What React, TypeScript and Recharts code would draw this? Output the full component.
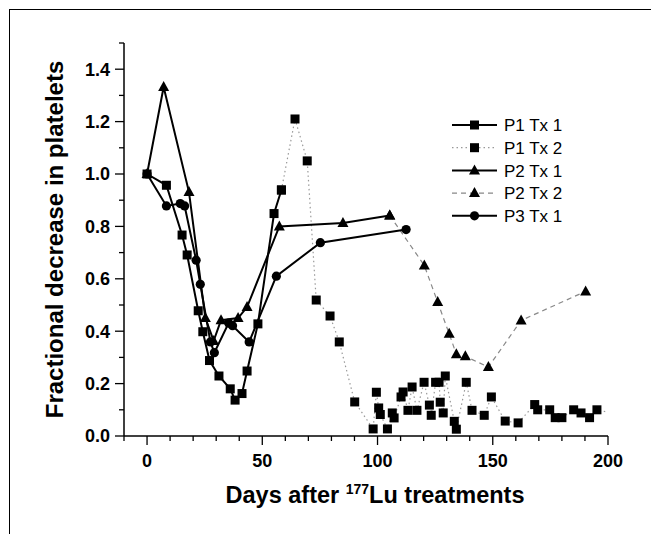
import React from "react";
import { LineChart, Line, XAxis, YAxis, Legend } from "recharts";

// [day, fraction] pairs
const p1Tx1 = [
  [0, 1.0], [8.4, 0.957], [15.2, 0.767], [17.4, 0.691], [22.2, 0.478], [24.2, 0.398],
  [27.1, 0.288], [31.2, 0.229], [36.1, 0.18], [38.2, 0.137], [41.2, 0.162], [43.4, 0.248],
  [48.1, 0.428], [55.1, 0.849], [58.3, 0.939],
];

const p1Tx2 = [
  [58.3, 0.939], [64.2, 1.21], [69.5, 1.05], [73.4, 0.519], [79.4, 0.458], [83.4, 0.359],
  [90.1, 0.13], [98.1, 0.027], [99.5, 0.167], [100.5, 0.107], [101.2, 0.082], [104.3, 0.027],
  [106.4, 0.088], [107.2, 0.069], [110.2, 0.149], [111.1, 0.168], [113.2, 0.098], [115.0, 0.187],
  [117.1, 0.098], [120.2, 0.205], [122.5, 0.118], [123.3, 0.079], [125.2, 0.205], [126.7, 0.205],
  [127.2, 0.129], [128.5, 0.088], [129.4, 0.229], [133.3, 0.056], [134.2, 0.026], [138.5, 0.205],
  [141.0, 0.098], [146.3, 0.079], [149.4, 0.149], [155.4, 0.057], [161.0, 0.05], [168.2, 0.12],
  [169.5, 0.1], [174.7, 0.1], [177.1, 0.07], [180.0, 0.07], [185.1, 0.1], [188.3, 0.088],
  [192.0, 0.07], [195.2, 0.1], [199.5, 0.092],
];

const p2Tx1 = [
  [0, 1.0], [7.2, 1.332], [18.2, 0.931], [25.3, 0.45], [28.9, 0.363], [32.1, 0.442],
  [39.5, 0.45], [43.4, 0.492], [57.4, 0.8], [85.0, 0.813], [105.3, 0.842],
];

const p2Tx2 = [
  [105.3, 0.842], [120.3, 0.651], [126.1, 0.511], [131.1, 0.39], [134.2, 0.312],
  [138.1, 0.304], [148.1, 0.263], [162.3, 0.441], [190.3, 0.552],
];

const p3Tx1 = [
  [0, 1.0], [8.4, 0.878], [14.4, 0.887], [16.3, 0.878], [21.3, 0.671], [23.1, 0.579],
  [27.5, 0.359], [29.2, 0.318], [35.4, 0.431], [37.1, 0.421], [44.3, 0.359], [56.1, 0.61],
  [75.2, 0.738], [112.4, 0.788],
];

const xTicks = [-10, 0, 10, 20, 30, 40, 50, 60, 70, 80, 90, 100, 110, 120, 130, 140, 150, 160, 170, 180, 190, 200];
const yTicks = [0, 0.1, 0.2, 0.3, 0.4, 0.5, 0.6, 0.7, 0.8, 0.9, 1.0, 1.1, 1.2, 1.3, 1.4, 1.5];

const toRows = (pts: number[][]) => pts.map(([day, v]) => ({ day, v }));

const FONT = "'Liberation Sans', Arial, Helvetica, sans-serif";

function Marker({ cx, cy, shape }: { cx: number; cy: number; shape: string }) {
  if (cx == null || cy == null) return <g />;
  if (shape === "square") return <rect x={cx - 4.5} y={cy - 4.5} width={9} height={9} fill="#000" />;
  if (shape === "triangle")
    return <path d={`M${cx},${cy - 6} L${cx + 5.5},${cy + 4} L${cx - 5.5},${cy + 4} Z`} fill="#000" />;
  return <circle cx={cx} cy={cy} r={4.6} fill="#000" />;
}

const series = [
  { name: "P1 Tx 1", data: p1Tx1, shape: "square", stroke: "#000", width: 2, dash: undefined },
  { name: "P1 Tx 2", data: p1Tx2, shape: "square", stroke: "#999", width: 1.2, dash: "1.5 3" },
  { name: "P2 Tx 1", data: p2Tx1, shape: "triangle", stroke: "#000", width: 2, dash: undefined },
  { name: "P2 Tx 2", data: p2Tx2, shape: "triangle", stroke: "#888", width: 1.2, dash: "5 4" },
  { name: "P3 Tx 1", data: p3Tx1, shape: "circle", stroke: "#000", width: 2, dash: undefined },
];

// draw order: grey treatments first, P1 Tx 1 on top
const drawOrder = ["P2 Tx 2", "P1 Tx 2", "P3 Tx 1", "P2 Tx 1", "P1 Tx 1"];

function XTick(props: any) {
  const { x, y, payload } = props;
  const major = payload.value % 50 === 0;
  return (
    <g>
      <line x1={x} y1={y} x2={x} y2={y + (major ? 9 : 5)} stroke="#000" strokeWidth={1.3} />
      {major && (
        <text x={x} y={y + 31} textAnchor="middle" fontFamily={FONT} fontWeight="bold" fontSize={18} fill="#000">
          {payload.value}
        </text>
      )}
    </g>
  );
}

function YTick(props: any) {
  const { x, y, payload } = props;
  const tenth = Math.round(payload.value * 10);
  const major = tenth % 2 === 0;
  return (
    <g>
      <line x1={x - (major ? 9 : 5)} y1={y} x2={x} y2={y} stroke="#000" strokeWidth={1.3} />
      {major && (
        <text x={x - 14} y={y} dy="0.36em" textAnchor="end" fontFamily={FONT} fontWeight="bold" fontSize={18} fill="#000">
          {(tenth / 10).toFixed(1)}
        </text>
      )}
    </g>
  );
}

function LegendBox() {
  return (
    <svg width={170} height={115}>
      {series.map((s, i) => {
        const cy = 11 + i * 22.7;
        return (
          <g key={s.name}>
            <line x1={2} y1={cy} x2={47} y2={cy} stroke={s.stroke} strokeWidth={s.width} strokeDasharray={s.dash} />
            <Marker cx={24.5} cy={cy} shape={s.shape} />
            <text x={54} y={cy} dy="0.36em" fontFamily={FONT} fontSize={17} fill="#000">
              {s.name}
            </text>
          </g>
        );
      })}
    </svg>
  );
}

export default function App() {
  return (
    <div style={{ position: "absolute", left: 0, top: 0, width: 651, height: 534, background: "#fff" }}>
      <div
        style={{
          position: "absolute",
          left: 9,
          top: 9,
          width: 660,
          height: 540,
          borderTop: "1.5px solid #000",
          borderLeft: "1.5px solid #000",
        }}
      />
      <LineChart width={651} height={534} margin={{ top: 43, right: 43, bottom: 0, left: 0 }}>
        <XAxis
          dataKey="day"
          type="number"
          domain={[-10, 200]}
          ticks={xTicks}
          interval={0}
          allowDataOverflow
          height={98}
          tickSize={0}
          tickMargin={0}
          tickLine={false}
          axisLine={{ stroke: "#000", strokeWidth: 1.5 }}
          tick={<XTick />}
          label={{
            position: "insideBottom",
            content: (p: any) => {
              const vb = p.viewBox;
              return (
                <text
                  x={vb.x + vb.width / 2 + 9}
                  y={vb.y + 67}
                  textAnchor="middle"
                  fontFamily={FONT}
                  fontWeight="bold"
                  fontSize={23.5}
                  fill="#000"
                >
                  Days after <tspan fontSize={14} dy={-9}>177</tspan>
                  <tspan dy={9}>Lu treatments</tspan>
                </text>
              );
            },
          }}
        />
        <YAxis
          type="number"
          domain={[0, 1.5]}
          ticks={yTicks}
          interval={0}
          allowDataOverflow
          width={124}
          tickSize={0}
          tickMargin={0}
          tickLine={false}
          axisLine={{ stroke: "#000", strokeWidth: 1.5 }}
          tick={<YTick />}
          label={{
            position: "insideLeft",
            content: (p: any) => {
              const vb = p.viewBox;
              const cx = vb.x + 63;
              const cy = vb.y + vb.height / 2;
              return (
                <text
                  x={cx}
                  y={cy}
                  transform={`rotate(-90 ${cx} ${cy})`}
                  textAnchor="middle"
                  fontFamily={FONT}
                  fontWeight="bold"
                  fontSize={24}
                  fill="#000"
                >
                  Fractional decrease in platelets
                </text>
              );
            },
          }}
        />
        <Legend
          layout="vertical"
          align="center"
          verticalAlign="middle"
          content={() => <LegendBox />}
          wrapperStyle={{ left: 450, top: 114, width: 170 }}
        />
        {drawOrder.map((name) => {
          const s = series.find((q) => q.name === name)!;
          const last = s.data.length - 1;
          return (
            <Line
              key={s.name}
              name={s.name}
              data={toRows(s.data)}
              dataKey="v"
              type="linear"
              stroke={s.stroke}
              strokeWidth={s.width}
              strokeDasharray={s.dash}
              isAnimationActive={false}
              legendType="none"
              dot={(p: any) =>
                s.name === "P1 Tx 2" && p.index === last ? (
                  <g key={p.index} />
                ) : (
                  <Marker key={p.index} cx={p.cx} cy={p.cy} shape={s.shape} />
                )
              }
              activeDot={false}
            />
          );
        })}
      </LineChart>
    </div>
  );
}
